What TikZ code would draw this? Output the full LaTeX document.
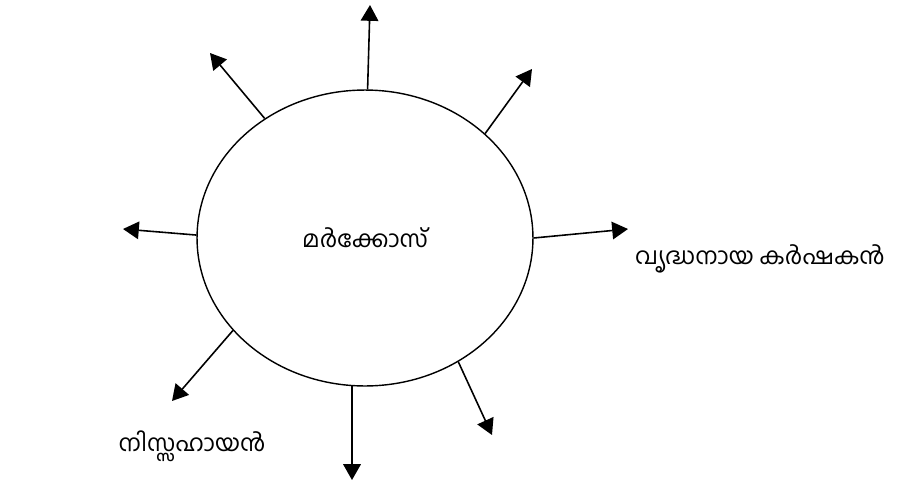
\documentclass[tikz,border=0pt]{standalone}
\usepackage{fontspec}
\newfontfamily\mlfont[Script=Malayalam]{Hind Kochi}
\usetikzlibrary{arrows.meta,shapes.geometric}

\begin{document}
\begin{tikzpicture}[
  x=0.02cm, y=-0.02cm,
  every node/.style={font=\mlfont\fontsize{13.3}{16}\selectfont},
  oval/.style={
    draw,
    ellipse,
    line width=0.8pt,
    minimum width=6.72cm,
    minimum height=5.92cm
  },
  arrow/.style={-{Triangle[length=9pt,width=10pt]}, line width=0.9pt},
  lbl/.style={inner sep=0pt}
]
\useasboundingbox (0,0) rectangle (904,484);
\node[oval] (mark) at (365,238) {മർക്കോസ്};
% free ends of the arrows
\coordinate (tipN) at (370,5);
\coordinate (tipNW) at (210,53);
\coordinate (tipNE) at (532,69);
\coordinate (tipW) at (123,229);
\coordinate (tipE) at (628,229);
\coordinate (tipSW) at (172,401);
\coordinate (tipS) at (352,480);
\coordinate (tipSE) at (492,435);
\foreach \ang/\tip in {89/tipN, 130/tipNW, 41/tipNE, 179/tipW, 0.3/tipE, 215/tipSW, 265/tipS, 307.5/tipSE}
  \draw[arrow] (mark.\ang) -- (\tip);
\node[lbl] (farmer) at (760,259) {വൃദ്ധനായ കർഷകൻ};
\node[lbl] (helpless) at (192,446) {നിസ്സഹായൻ};
\end{tikzpicture}
\end{document}
